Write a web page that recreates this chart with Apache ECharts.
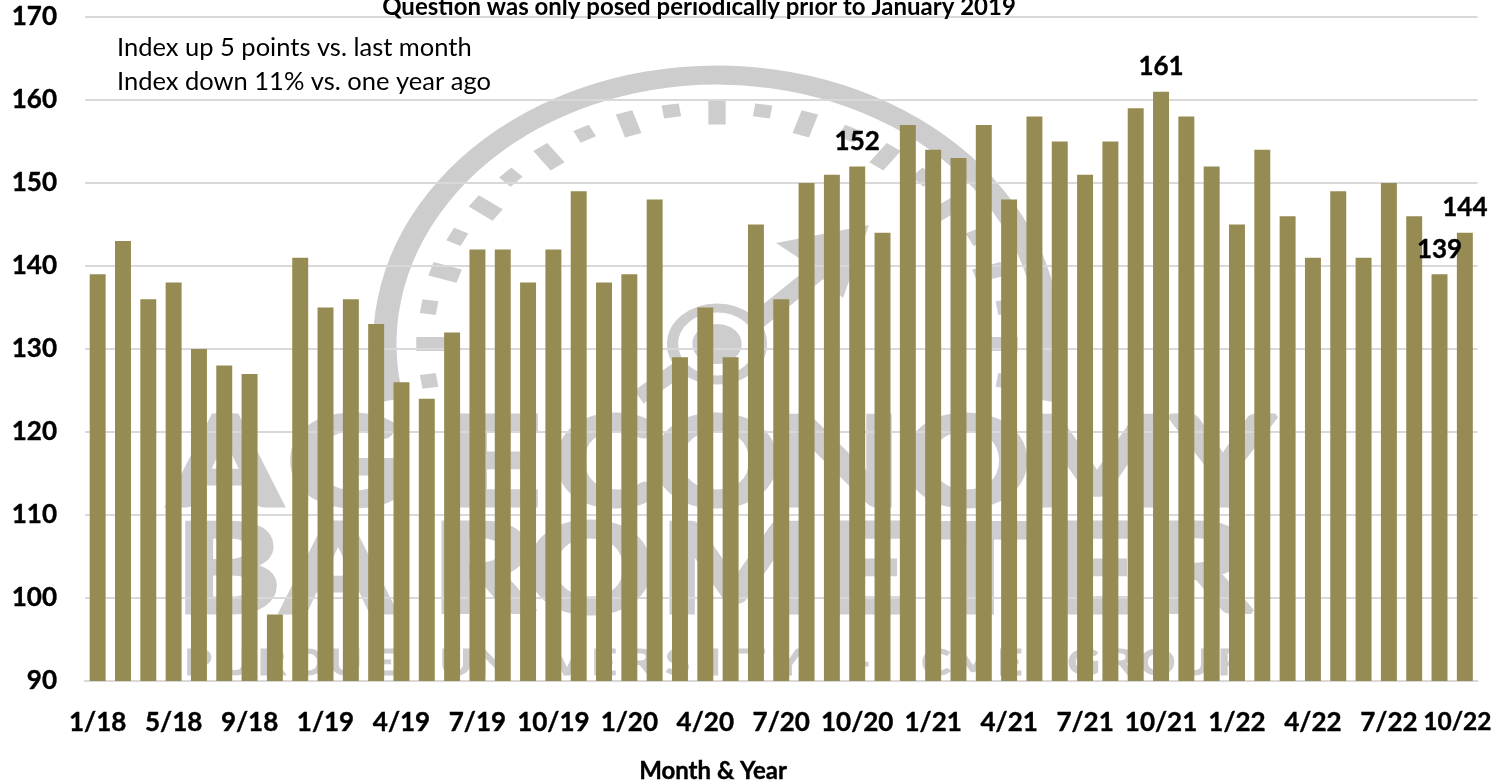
<!DOCTYPE html>
<html>
<head>
<meta charset="utf-8">
<style>html,body{margin:0;padding:0;background:#fff}#c{width:1511px;height:783px}</style>
<script src="https://cdn.jsdelivr.net/npm/echarts@6/dist/echarts.min.js"></script>
</head>
<body>
<div id="c"></div>
<script>
const categories = ['1/18','2/18','3/18','5/18','6/18','7/18','9/18','10/18','12/18',
  '1/19','2/19','3/19','4/19','5/19','6/19','7/19','8/19','9/19','10/19','11/19','12/19',
  '1/20','2/20','3/20','4/20','5/20','6/20','7/20','8/20','9/20','10/20','11/20','12/20',
  '1/21','2/21','3/21','4/21','5/21','6/21','7/21','8/21','9/21','10/21','11/21','12/21',
  '1/22','2/22','3/22','4/22','5/22','6/22','7/22','8/22','9/22','10/22'];
const indexValues = [139,143,136,138,130,128,127,98,141,
  135,136,133,126,124,132,142,142,138,142,149,138,
  139,148,129,135,129,145,136,150,151,152,144,157,
  154,153,157,148,158,155,151,155,159,161,158,152,
  145,154,146,141,149,141,150,146,139,144];
const labelledMonths = ['10/20','10/21','9/22','10/22'];
const titleText = 'Question was only posed periodically prior to January 2019';
const noteLines = ['Index up 5 points vs. last month','Index down 11% vs. one year ago'];
const axisTitle = 'Month & Year';
const FONT = 'Lato';

const WM = '#cdcdcd';
const cx = 717, cy = 344, sx = 1.235;
const rad = d => d * Math.PI / 180;
const wm = [];
const gauge = [];
gauge.push({type:'arc', z:-5, shape:{cx:0,cy:0,r:269,startAngle:rad(168),endAngle:rad(372),clockwise:true},
  style:{stroke:WM,lineWidth:19,fill:null}});
for (let a=-99;a<=99;a+=9){
  const large = (a%18)===0;
  const r = large?231.5:236, len = large?24:13;
  gauge.push({type:'rect', z:-5, x:r*Math.sin(rad(a)), y:-r*Math.cos(rad(a)), rotation:-rad(a),
    shape:{x:-7,y:-len/2,width:14,height:len}, style:{fill:WM}});
}
gauge.push({type:'circle', z:-5, shape:{cx:0,cy:0,r:36}, style:{stroke:WM,lineWidth:9,fill:'#fff'}});
gauge.push({type:'circle', z:-5, shape:{cx:0,cy:0,r:20}, style:{fill:WM}});
wm.push({type:'group', z:-5, x:cx, y:cy, scaleX:sx, scaleY:1, children:gauge});
wm.push({type:'line', z:-5, shape:{x1:639,y1:397,x2:680,y2:368}, style:{stroke:WM,lineWidth:16}});
wm.push({type:'line', z:-5, shape:{x1:758,y1:320,x2:835,y2:258}, style:{stroke:WM,lineWidth:18}});
wm.push({type:'polygon', z:-5, shape:{points:[[869,225],[776,243],[805,262],[843,298]]}, style:{fill:WM}});
const place = (chars, xs, y, size, stretch) => chars.split('').forEach((ch,i)=>{
  wm.push({type:'text', z:-5, x:xs[i], y:y, scaleX:stretch, style:{text:ch, fill:WM, stroke:WM, lineWidth:size>60?5:1,
    font:'bold '+size+'px '+FONT, textAlign:'center', textVerticalAlign:'middle'}});
});
place('AGECONOMY',[225,345,495,606,716,840,966,1097,1223],466,122,1.3);
place('BAROMETER',[228,338,483,590,735,865,980,1095,1200],573,122,1.3);
const small = 'PURDUE UNIVERSITY - CME GROUP';
place(small, small.split('').map((_,i)=>198+i*36.9), 663, 37, 1.2);

const option = {
  backgroundColor:'#fff',
  animation:false,
  title:[
    {text:titleText, left:694, top:-10, textAlign:'center', textStyle:{fontFamily:FONT,fontWeight:'bold',fontSize:24,color:'#000'}},
    {text:axisTitle, left:708, top:754, textAlign:'center', textStyle:{fontFamily:FONT,fontWeight:'bold',fontSize:24,color:'#000',textBorderColor:'#000',textBorderWidth:0.4}},
    {text:noteLines[0], left:112, top:30, textStyle:{fontFamily:FONT,fontWeight:'normal',fontSize:25.5,color:'#000'}},
    {text:noteLines[1], left:112, top:64, textStyle:{fontFamily:FONT,fontWeight:'normal',fontSize:25.5,color:'#000'}}
  ],
  graphic:{elements:wm},
  grid:{left:85,right:33.5,top:17,bottom:102,containLabel:false},
  xAxis:{type:'category',data:categories,
    axisLine:{lineStyle:{color:'#d9d9d9',width:2}},axisTick:{show:false},
    axisLabel:{interval:2,margin:29,color:'#000',fontFamily:FONT,fontWeight:'bold',fontSize:26,hideOverlap:false,
      textBorderColor:'#000',textBorderWidth:0.4,
      formatter:v=>v==='10/22'?'{last|'+v+'}':v,
      rich:{last:{fontFamily:FONT,fontWeight:'bold',fontSize:24.5,color:'#000',padding:[0,15,0,0],textBorderColor:'#000',textBorderWidth:0.4}}}},
  yAxis:{type:'value',min:90,max:170,interval:10,
    axisLine:{show:false},axisTick:{show:false},
    splitLine:{lineStyle:{color:'#d9d9d9',width:2}},
    axisLabel:{margin:28,color:'#000',fontFamily:FONT,fontWeight:'bold',fontSize:26,textBorderColor:'#000',textBorderWidth:0.4}},
  series:[{type:'bar',barWidth:'63%',itemStyle:{color:'#968b52'},
    data:indexValues.map((v,i)=>({value:v,label:{show:labelledMonths.includes(categories[i])}})),
    label:{position:'top',distance:12,color:'#000',fontFamily:FONT,fontWeight:'bold',fontSize:26,textBorderColor:'#000',textBorderWidth:0.4}}]
};
echarts.init(document.getElementById('c'),null,{renderer:'canvas'}).setOption(option);
</script>
</body>
</html>
